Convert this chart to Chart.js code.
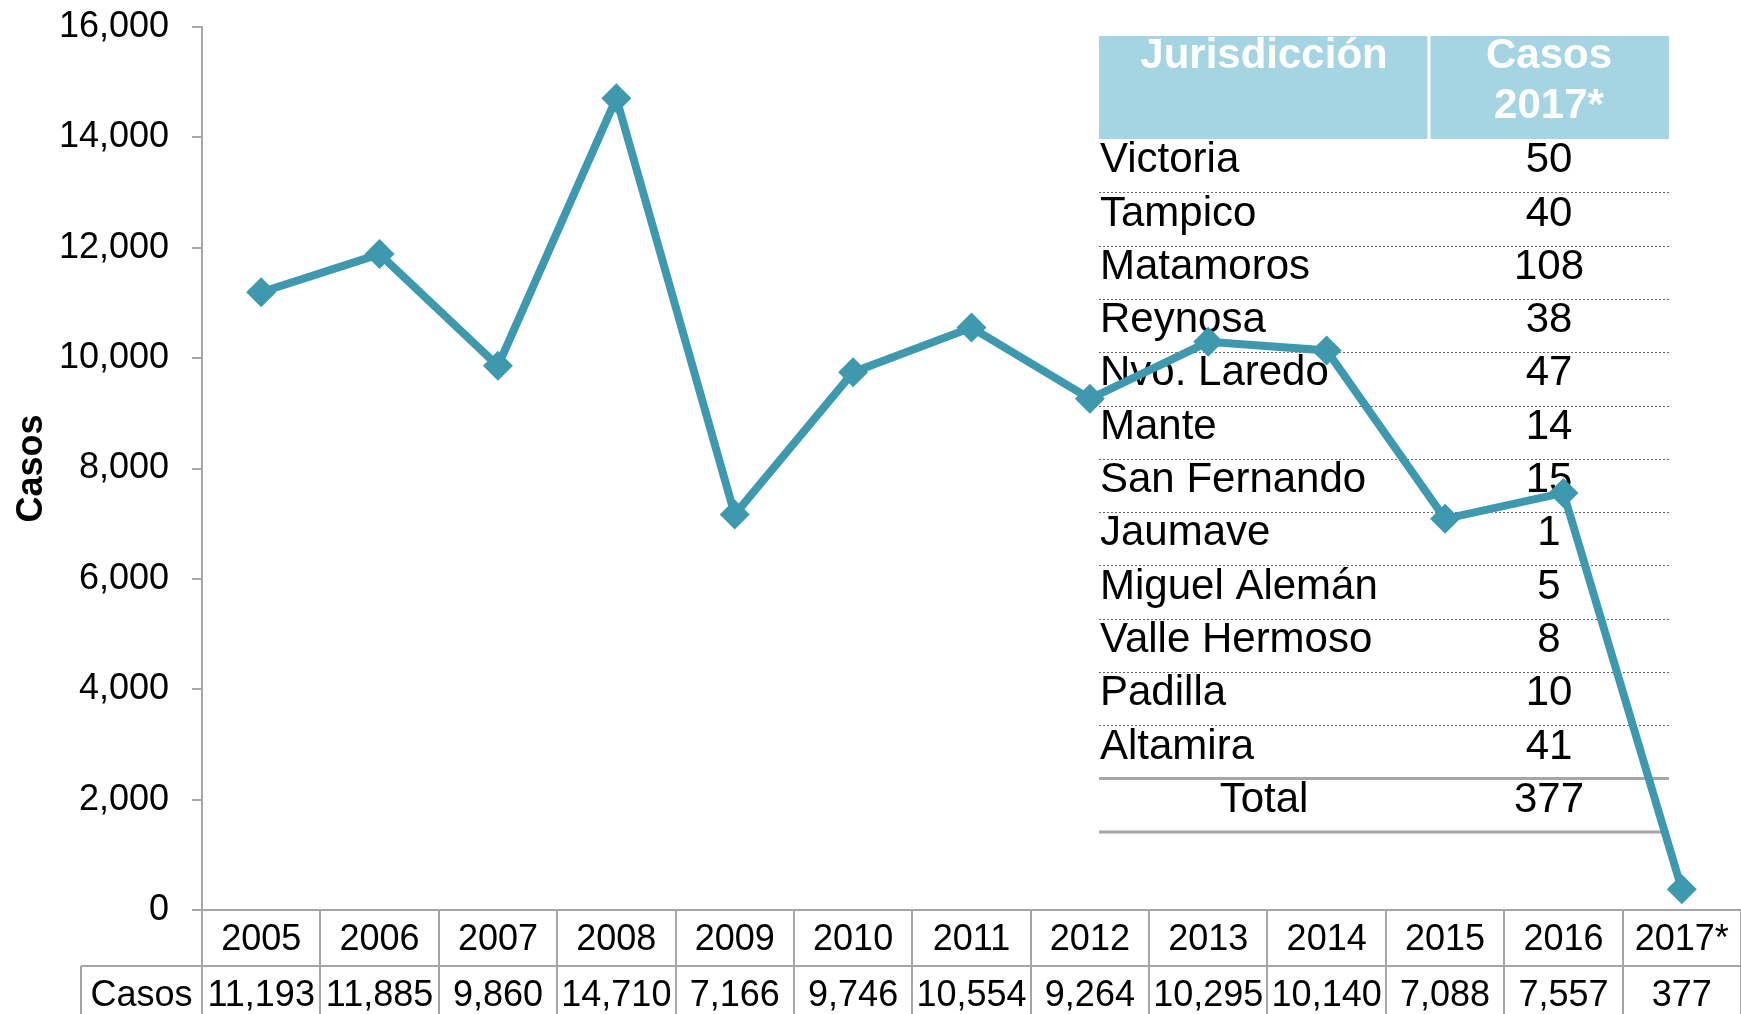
<!DOCTYPE html>
<html>
<head>
<meta charset="utf-8">
<title>Casos</title>
<script src="https://cdn.jsdelivr.net/npm/chart.js@4/dist/chart.umd.min.js"></script>
<style>
    body { margin: 0; background: #fff; }
    #chart { display: block; }
</style>
</head>
<body>
<canvas id="chart" width="1741" height="1014"></canvas>
<script>
// Datos de la serie anual
const years = ['2005', '2006', '2007', '2008', '2009', '2010', '2011', '2012', '2013', '2014', '2015', '2016', '2017*'];
const cases = [11193, 11885, 9860, 14710, 7166, 9746, 10554, 9264, 10295, 10140, 7088, 7557, 377];
const yTicks = [0, 2000, 4000, 6000, 8000, 10000, 12000, 14000, 16000];

// Tabla de jurisdicciones 2017
const jurisdictions = ['Victoria', 'Tampico', 'Matamoros', 'Reynosa', 'Nvo. Laredo', 'Mante', 'San Fernando', 'Jaumave', 'Miguel Alemán', 'Valle Hermoso', 'Padilla', 'Altamira'];
const cases2017 = [50, 40, 108, 38, 47, 14, 15, 1, 5, 8, 10, 41];
const total2017 = 377;

const FONT = '"Liberation Sans", Arial, sans-serif';
const LINE_COLOR = '#3E98AE';
const GRID_COLOR = '#A6A6A6';

function fmt(n) {
    return n.toLocaleString('en-US');
}

// Tabla superior derecha (se dibuja antes de la linea)
const jurisdictionTable = {
    id: 'jurisdictionTable',
    beforeDatasetsDraw(chart) {
        const ctx = chart.ctx;
        const left = 1099, mid = 1429, right = 1669;
        const top = 36, headBottom = 139, rowH = 53.3;

        ctx.save();
        ctx.fillStyle = '#A5D5E3';
        ctx.fillRect(left, top, mid - left - 1.5, headBottom - top);
        ctx.fillRect(mid + 1.5, top, right - mid - 1.5, headBottom - top);

        ctx.fillStyle = '#fff';
        ctx.font = 'bold 42px ' + FONT;
        ctx.textAlign = 'center';
        ctx.textBaseline = 'middle';
        ctx.fillText('Jurisdicción', (left + mid) / 2, 56);
        ctx.fillText('Casos', (mid + right) / 2, 56);
        ctx.fillText('2017*', (mid + right) / 2, 106);

        ctx.font = '42px ' + FONT;
        ctx.fillStyle = '#000';
        jurisdictions.forEach((name, i) => {
            const yc = headBottom + rowH * i + rowH / 2 - 5;
            ctx.textAlign = 'left';
            ctx.fillText(name, left + 1, yc);
            ctx.textAlign = 'center';
            ctx.fillText(String(cases2017[i]), (mid + right) / 2, yc);
        });
        const totalY = headBottom + rowH * jurisdictions.length;
        ctx.textAlign = 'center';
        ctx.fillText('Total', (left + mid) / 2, totalY + rowH / 2 - 5);
        ctx.fillText(String(total2017), (mid + right) / 2, totalY + rowH / 2 - 5);

        // separadores punteados
        ctx.strokeStyle = '#666';
        ctx.lineWidth = 1;
        ctx.setLineDash([2, 2]);
        for (let i = 1; i < jurisdictions.length; i++) {
            const y = Math.round(headBottom + rowH * i) + 0.5;
            ctx.beginPath();
            ctx.moveTo(left, y);
            ctx.lineTo(right, y);
            ctx.stroke();
        }
        ctx.setLineDash([]);
        ctx.strokeStyle = GRID_COLOR;
        ctx.lineWidth = 3;
        [totalY, totalY + rowH].forEach(y => {
            ctx.beginPath();
            ctx.moveTo(left, y);
            ctx.lineTo(right, y);
            ctx.stroke();
        });
        ctx.restore();
    }
};

// Tabla de datos bajo el eje X
const dataTable = {
    id: 'dataTable',
    afterDraw(chart) {
        const ctx = chart.ctx;
        const x = chart.scales.x;
        const area = chart.chartArea;
        const colW = x.width / years.length;
        const row1 = area.bottom, row2 = area.bottom + 56, row3 = chart.height + 2;
        const labelLeft = 81;

        ctx.save();
        ctx.strokeStyle = GRID_COLOR;
        ctx.lineWidth = 2;
        ctx.beginPath();
        ctx.moveTo(area.left - 10, row1);
        ctx.lineTo(area.right, row1);
        ctx.moveTo(labelLeft, row2);
        ctx.lineTo(area.right, row2);
        ctx.moveTo(labelLeft, row2);
        ctx.lineTo(labelLeft, row3);
        for (let i = 0; i <= years.length; i++) {
            const bx = Math.round(x.getPixelForValue(i) - colW / 2);
            ctx.moveTo(bx, row1);
            ctx.lineTo(bx, row3);
        }
        ctx.stroke();

        ctx.fillStyle = '#000';
        ctx.font = '36px ' + FONT;
        ctx.textAlign = 'center';
        ctx.textBaseline = 'middle';
        years.forEach((yr, i) => {
            const cx = x.getPixelForValue(i);
            ctx.fillText(yr, cx, (row1 + row2) / 2 + 2);
            ctx.fillText(fmt(cases[i]), cx, row2 + 30);
        });
        ctx.fillText('Casos', (labelLeft + area.left) / 2, row2 + 30);
        ctx.restore();
    }
};

const ctx = document.getElementById('chart');
const casesChart = new Chart(ctx, {
    type: 'line',
    data: {
        labels: years,
        datasets: [{
            label: 'Casos',
            data: cases,
            borderColor: LINE_COLOR,
            backgroundColor: LINE_COLOR,
            borderWidth: 8,
            pointStyle: 'rectRot',
            pointRadius: 15,
            pointHoverRadius: 15,
            pointBorderWidth: 0,
            tension: 0,
            clip: false
        }]
    },
    options: {
        responsive: false,
        devicePixelRatio: 1,
        animation: false,
        layout: {
            autoPadding: false,
            padding: { top: 27, right: 0, bottom: 104, left: 0 }
        },
        plugins: {
            legend: { display: false },
            tooltip: { enabled: false }
        },
        scales: {
            x: {
                display: false,
                offset: true
            },
            y: {
                min: 0,
                max: 16000,
                afterFit(scale) {
                    scale.width = 202;
                    scale.paddingTop = 0;
                    scale.paddingBottom = 0;
                },
                afterBuildTicks(scale) {
                    scale.ticks = yTicks.map(v => ({ value: v }));
                },
                ticks: {
                    color: '#000',
                    padding: 23,
                    font: { family: FONT, size: 36 },
                    callback: v => fmt(v)
                },
                grid: {
                    drawOnChartArea: false,
                    drawTicks: true,
                    tickLength: 10,
                    color: GRID_COLOR,
                    lineWidth: 2
                },
                border: { color: GRID_COLOR, width: 2 },
                title: {
                    display: true,
                    text: 'Casos',
                    color: '#000',
                    font: { family: FONT, size: 36, weight: 'bold' },
                    padding: { top: 10, bottom: 0 }
                }
            }
        }
    },
    plugins: [jurisdictionTable, dataTable]
});
</script>
</body>
</html>
